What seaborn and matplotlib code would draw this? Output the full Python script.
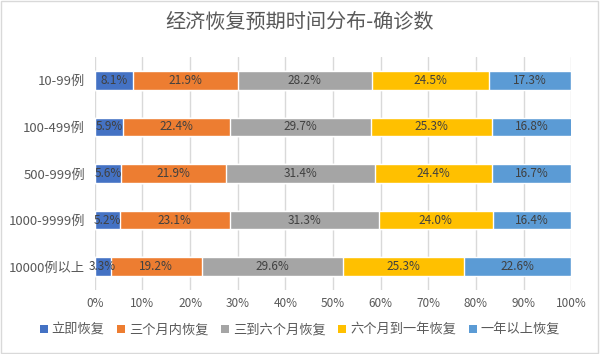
import numpy as np
import pandas as pd
import seaborn as sns
import matplotlib.pyplot as plt
from matplotlib.patches import Patch

# data
groups = ["10-99例", "100-499例", "500-999例", "1000-9999例", "10000例以上"]
series = ["立即恢复", "三个月内恢复", "三到六个月恢复", "六个月到一年恢复", "一年以上恢复"]
immediate = [8.1, 5.9, 5.6, 5.2, 3.3]
within_3m = [21.9, 22.4, 21.9, 23.1, 19.2]
m3_to_6 = [28.2, 29.7, 31.4, 31.3, 29.6]
m6_to_1y = [24.5, 25.3, 24.4, 24.0, 25.3]
over_1y = [17.3, 16.8, 16.7, 16.4, 22.6]
colors = ["#4472C4", "#ED7D31", "#A5A5A5", "#FFC000", "#5B9BD5"]

vals = np.array([immediate, within_3m, m3_to_6, m6_to_1y, over_1y])
cum = vals.cumsum(axis=0)

sns.set_theme(style="white")
plt.rcParams['font.family'] = ['Noto Sans CJK SC', 'DejaVu Sans']

fig = plt.figure(figsize=(6, 3.54), dpi=100)
ax = fig.add_axes([0.158, 0.181, 0.794, 0.658])

# stacked bars: draw cumulative totals from largest down
for i in range(len(series) - 1, -1, -1):
    df = pd.DataFrame({"group": groups, "value": cum[i]})
    sns.barplot(data=df, x="value", y="group", color=colors[i], width=0.4,
                saturation=1, ax=ax, zorder=2)

# labels in segment centres
for i in range(len(series)):
    for j in range(len(groups)):
        ax.text(cum[i][j] - vals[i][j] / 2, j, f"{vals[i][j]:.1f}%",
                ha="center", va="center", fontsize=8.5, color="#404040", zorder=3)

ax.set_xlim(0, 100)
ax.set_xticks(np.arange(0, 101, 10))
ax.set_xticklabels([f"{t}%" for t in range(0, 101, 10)])
ax.set_xlabel("")
ax.set_ylabel("")
ax.grid(axis="x", color="#D9D9D9", linewidth=1, zorder=0)
ax.set_axisbelow(True)
for s in ax.spines.values():
    s.set_visible(False)
ax.tick_params(axis="x", length=0, labelsize=8.5, labelcolor="#595959", pad=5)
ax.tick_params(axis="y", length=0, labelsize=9.5, labelcolor="#595959", pad=7)

fig.suptitle("经济恢复预期时间分布-确诊数", x=0.5, y=0.965, fontsize=14.5, color="#595959")

handles = [Patch(facecolor=c, edgecolor="none") for c in colors]
fig.legend(handles, series, loc="lower center", bbox_to_anchor=(0.5, 0.015), ncol=5,
           frameon=False, fontsize=9.5, handlelength=0.6, handleheight=0.6,
           handletextpad=0.3, columnspacing=0.95, labelcolor="#595959")

fig.patches.append(plt.Rectangle((0.002, 0.003), 0.995, 0.994, transform=fig.transFigure,
                                 fill=False, edgecolor="#D9D9D9", linewidth=1))

fig.savefig("out.png", dpi=100)
